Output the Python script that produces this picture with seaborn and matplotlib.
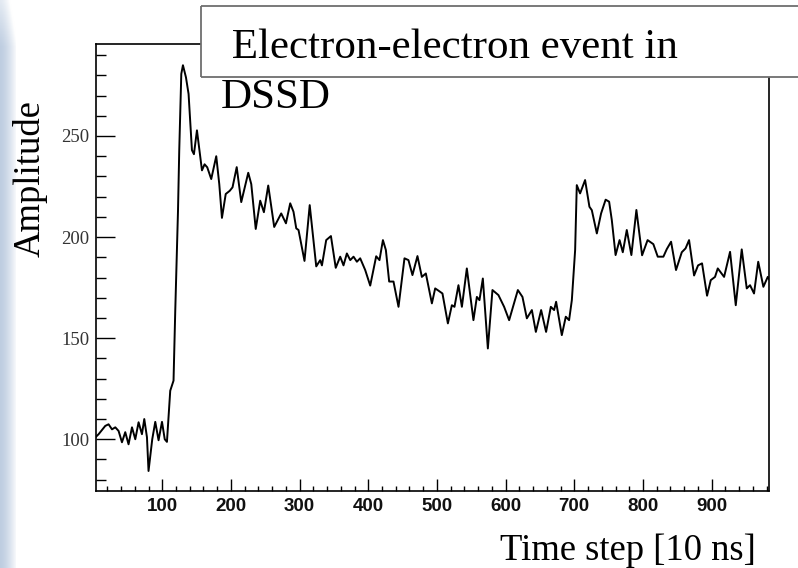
import numpy as np
import pandas as pd
import matplotlib
matplotlib.use("Agg")
import matplotlib.pyplot as plt
import seaborn as sns
from matplotlib.patches import Rectangle
from matplotlib.lines import Line2D
from matplotlib.ticker import MultipleLocator

# ---- data ----
time_step = [2.5, 7.3, 17.0, 21.8, 26.8, 31.6, 36.4, 41.3, 46.1, 50.9,
             55.9, 60.7, 65.5, 70.4, 73.8, 77.7, 80.0, 85.4, 89.8, 94.6,
             99.6, 103.6, 106.8, 111.6, 116.4, 118.9, 122.9, 124.7, 127.7, 130.1,
             134.5, 138.3, 143.2, 146.1, 150.5, 154.3, 157.8, 161.6, 165.5, 171.3,
             178.6, 183.0, 186.9, 192.4, 198.3, 202.3, 208.4, 215.0, 225.2, 229.6,
             236.1, 242.6, 248.0, 254.3, 263.0, 273.2, 280.1, 286.3, 291.1, 295.1,
             298.4, 307.1, 314.7, 324.2, 330.0, 332.5, 338.7, 345.6, 352.6, 359.1,
             363.9, 368.8, 373.7, 378.5, 383.4, 388.2, 395.5, 402.8, 411.5, 416.3,
             421.3, 425.6, 430.4, 436.7, 444.0, 452.7, 458.5, 464.3, 471.6, 478.0,
             483.8, 492.6, 497.4, 502.2, 508.0, 515.9, 521.7, 525.5, 531.3, 536.3,
             543.5, 553.1, 558.1, 561.9, 566.8, 574.1, 580.8, 589.5, 597.8, 605.1,
             617.8, 624.5, 630.9, 638.2, 644.0, 651.7, 658.9, 665.8, 670.6, 673.5,
             681.8, 687.6, 692.4, 696.4, 701.2, 703.6, 708.4, 715.7, 722.0, 725.5,
             732.8, 739.0, 745.6, 750.7, 754.6, 760.1, 765.9, 770.6, 776.4, 783.1,
             790.4, 798.7, 806.7, 815.1, 821.5, 829.7, 834.6, 840.9, 848.1, 856.5,
             862.0, 867.1, 874.4, 880.2, 886.0, 893.3, 898.7, 904.9, 908.9, 918.1,
             926.8, 935.1, 943.8, 951.1, 955.9, 961.7, 967.8, 975.3, 981.7, 984.0]

amplitude = [100.9, 102.5, 106.6, 107.4, 104.9, 105.9, 104.1, 98.5, 103.5, 97.5,
             105.9, 100.0, 108.4, 102.5, 110.0, 101.0, 84.3, 100.0, 108.6, 99.5,
             108.6, 100.0, 98.7, 124.0, 129.0, 163.5, 213.0, 242.7, 280.7, 285.0,
             279.0, 270.8, 243.0, 241.0, 252.8, 242.7, 233.0, 236.0, 234.5, 228.7,
             240.0, 226.2, 209.5, 221.3, 222.9, 224.6, 234.6, 217.3, 231.8, 226.2,
             204.0, 218.0, 212.3, 225.5, 205.0, 211.7, 206.8, 216.7, 212.5, 204.3,
             203.5, 188.2, 215.8, 185.5, 188.6, 186.0, 198.5, 200.5, 184.8, 190.3,
             186.0, 191.9, 188.6, 190.3, 187.8, 189.5, 183.7, 176.0, 190.5, 188.6,
             198.5, 193.6, 178.0, 178.0, 165.5, 189.5, 188.6, 181.2, 190.6, 180.3,
             182.0, 167.2, 174.6, 173.5, 172.1, 157.3, 166.3, 165.5, 176.2, 165.5,
             184.5, 158.9, 170.4, 168.8, 179.5, 144.9, 173.8, 171.3, 165.5, 158.9,
             173.8, 170.4, 159.8, 163.9, 153.1, 163.9, 153.1, 165.5, 163.9, 168.0,
             151.5, 160.6, 158.9, 168.8, 193.6, 225.7, 221.6, 228.2, 215.0, 213.3,
             201.8, 211.7, 218.5, 217.5, 208.4, 191.1, 198.5, 192.5, 203.5, 191.1,
             213.4, 191.0, 198.5, 196.5, 190.3, 190.3, 194.0, 197.7, 183.7, 192.5,
             194.4, 198.5, 181.0, 186.0, 187.0, 171.0, 178.7, 180.3, 184.5, 180.3,
             192.7, 166.3, 193.9, 174.6, 176.2, 172.1, 187.8, 175.4, 180.3, 179.0]

x_ticks = [100, 200, 300, 400, 500, 600, 700, 800, 900]
x_tick_labels = ["100", "200", "300", "400", "500", "600", "700", "800", "900"]
y_ticks = [100, 150, 200, 250]
y_tick_labels = ["100", "150", "200", "250"]

title_line1 = " Electron-electron event in"
title_line2 = "DSSD"
x_label = "Time step [10 ns]"
y_label = "Amplitude"

# ---- styling ----
sns.set_theme(style="white")
plt.rcParams["font.family"] = ["Liberation Serif", "DejaVu Serif"]

W, H = 798, 568
fig = plt.figure(figsize=(W / 100, H / 100), dpi=100)
fig.patch.set_facecolor("white")

# slide-like bluish strip at the left edge
bg = fig.add_axes([0, 0, 16 / W, 1], zorder=-1)
nx, ny = 40, 200
fx = np.linspace(0, 1, nx)[None, :]
fy = np.linspace(0, 1, ny)[:, None]
base = np.array([0.70, 0.77, 0.86])
mix = np.clip(0.15 + 0.75 * fx ** 1.5 + 0.6 * np.clip(0.08 - fy, 0, None) * 10, 0, 1)
img = base[None, None, :] * (1 - mix[..., None]) + 1.0 * mix[..., None]
bg.imshow(img, aspect="auto", extent=[0, 1, 0, 1], origin="upper")
bg.axis("off")

ax = fig.add_axes([96 / W, 1 - 491 / H, (769 - 96) / W, (491 - 44) / H])
ax.set_facecolor("white")
df = pd.DataFrame({"time_step": time_step, "amplitude": amplitude})
sns.lineplot(data=df, x="time_step", y="amplitude", ax=ax,
             color="black", linewidth=1.4, sort=False)

ax.set_xlim(3.5, 983.5)
ax.set_ylim(74.4, 295.5)
ax.set_xlabel("")
ax.set_ylabel("")

ax.set_xticks(x_ticks)
ax.set_xticklabels(x_tick_labels, fontfamily="Liberation Sans",
                   fontweight="bold", fontsize=13.5, color="#111111")
ax.set_yticks(y_ticks)
ax.set_yticklabels(y_tick_labels, fontfamily="Liberation Serif",
                   fontsize=13.5, color="#333333")
ax.xaxis.set_minor_locator(MultipleLocator(20))
ax.yaxis.set_minor_locator(MultipleLocator(10))

ax.tick_params(axis="both", which="both", direction="in",
               top=False, right=False, bottom=True, left=True, color="black")
ax.tick_params(axis="y", which="major", length=13.9, width=1.0, pad=5)
ax.tick_params(axis="y", which="minor", length=7.0, width=1.0)
ax.tick_params(axis="x", which="major", length=8.6, width=1.0, pad=5)
ax.tick_params(axis="x", which="minor", length=3.8, width=1.0)

for sp in ax.spines.values():
    sp.set_visible(True)
    sp.set_color("black")
    sp.set_linewidth(1.2)

# axis titles (slide text)
fig.text(30.5 / W, 1 - 178.5 / H, y_label, rotation=90, ha="center",
         va="center", fontsize=26.4, color="black")
fig.text(500 / W, 1 - 560 / H, x_label, ha="left", va="baseline",
         fontsize=26.4, color="black")

# title box (runs off the right edge of the slide: no right border)
bx0 = 201 / W
by0, by1 = 1 - 77 / H, 1 - 6 / H
box = Rectangle((bx0, by0), 1.0 - bx0, by1 - by0,
                transform=fig.transFigure, facecolor="white",
                edgecolor="none", zorder=5)
fig.add_artist(box)
for xs, ys in [([bx0, 1.0], [by1, by1]), ([bx0, 1.0], [by0, by0]),
               ([bx0, bx0], [by0, by1])]:
    fig.add_artist(Line2D(xs, ys, transform=fig.transFigure,
                          color="#6e6e6e", linewidth=1.3, zorder=5.5,
                          solid_capstyle="butt"))
fig.text(221 / W, 1 - 58 / H, title_line1, ha="left", va="baseline",
         fontsize=31, color="black", zorder=6)
fig.text(221 / W, 1 - 108 / H, title_line2, ha="left", va="baseline",
         fontsize=31, color="black", zorder=6)

fig.savefig("out.png", dpi=100, facecolor="white")
